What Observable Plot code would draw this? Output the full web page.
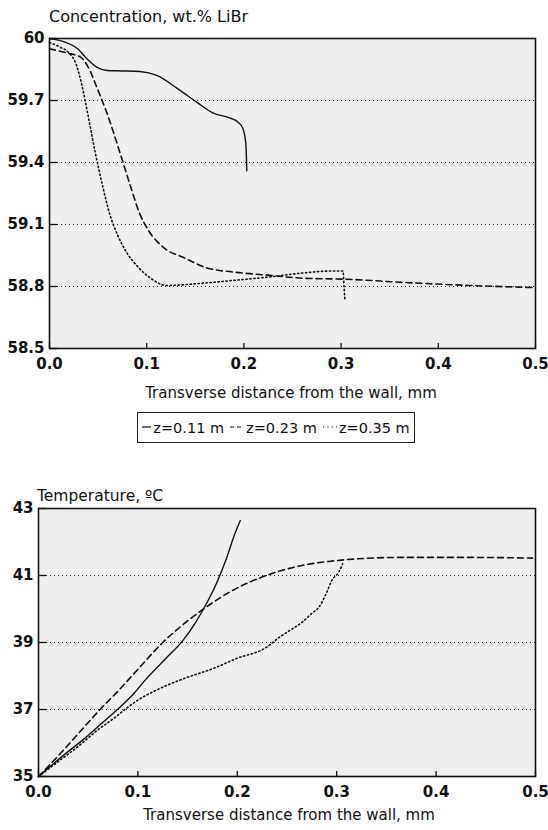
<!DOCTYPE html>
<html><head><meta charset="utf-8">
<script src="https://cdn.jsdelivr.net/npm/d3@7"></script>
<script src="https://cdn.jsdelivr.net/npm/@observablehq/plot@0.6"></script>
<style>
body{margin:0;background:#fff;}
#wrap{position:relative;width:548px;height:830px;overflow:hidden;font-family:"DejaVu Sans",sans-serif;color:#111;}
.abs{position:absolute;white-space:nowrap;}
.plot{position:absolute;left:0;}
#legend{position:absolute;left:137px;top:412px;width:276px;height:29px;border:1px solid #222;display:flex;align-items:center;justify-content:center;gap:6px;font-size:14.5px;white-space:nowrap;}
#legend span.it{display:flex;align-items:center;gap:2px;flex-shrink:0;white-space:nowrap;}
</style></head><body><div id="wrap"></div>
<script>
// ---------- data ----------
const seriesNames = ["z=0.11 m", "z=0.23 m", "z=0.35 m"];
const xTicks = [0, 0.1, 0.2, 0.3, 0.4, 0.5];
const concTicks = [58.5, 58.8, 59.1, 59.4, 59.7, 60];
const concGrid = [58.8, 59.1, 59.4, 59.7];
const tempTicks = [35, 37, 39, 41, 43];
const tempGrid = [37, 39, 41];

// Concentration, wt.% LiBr
const concX_011 = [0, 0.011, 0.029, 0.039, 0.049, 0.059, 0.075, 0.093, 0.111, 0.131, 0.152, 0.168, 0.186, 0.194, 0.199, 0.202, 0.203];
const concY_011 = [60, 59.99, 59.95, 59.90, 59.86, 59.845, 59.843, 59.84, 59.82, 59.76, 59.69, 59.64, 59.615, 59.595, 59.565, 59.49, 59.36];
const concX_023 = [0, 0.018, 0.032, 0.04, 0.049, 0.059, 0.073, 0.083, 0.093, 0.102, 0.117, 0.138, 0.162, 0.189, 0.224, 0.261, 0.306, 0.363, 0.432, 0.497];
const concY_023 = [59.95, 59.93, 59.91, 59.86, 59.76, 59.64, 59.44, 59.29, 59.15, 59.07, 58.99, 58.94, 58.89, 58.87, 58.855, 58.84, 58.835, 58.82, 58.805, 58.795];
const concX_035 = [0, 0.01, 0.02, 0.027, 0.033, 0.04, 0.047, 0.054, 0.062, 0.07, 0.08, 0.09, 0.104, 0.121, 0.155, 0.19, 0.224, 0.26, 0.29, 0.302, 0.303, 0.304];
const concY_035 = [59.98, 59.96, 59.93, 59.88, 59.78, 59.62, 59.45, 59.3, 59.15, 59.05, 58.96, 58.9, 58.84, 58.805, 58.815, 58.83, 58.845, 58.865, 58.875, 58.875, 58.80, 58.73];

// Temperature, °C
const tempX_011 = [0, 0.015, 0.03, 0.045, 0.066, 0.083, 0.095, 0.108, 0.129, 0.145, 0.157, 0.166, 0.179, 0.189, 0.197, 0.203];
const tempY_011 = [35, 35.38, 35.75, 36.1, 36.65, 37.1, 37.45, 37.9, 38.55, 39.05, 39.55, 40.0, 40.76, 41.5, 42.2, 42.64];
const tempX_023 = [0, 0.02, 0.04, 0.062, 0.08, 0.1, 0.125, 0.149, 0.166, 0.195, 0.229, 0.265, 0.292, 0.322, 0.365, 0.432, 0.497];
const tempY_023 = [35, 35.62, 36.28, 37.0, 37.55, 38.2, 39.0, 39.62, 40.0, 40.55, 41.0, 41.3, 41.42, 41.5, 41.54, 41.54, 41.52];
const tempX_035 = [0, 0.02, 0.04, 0.06, 0.075, 0.087, 0.1, 0.118, 0.146, 0.178, 0.199, 0.229, 0.242, 0.255, 0.265, 0.275, 0.282, 0.29, 0.295, 0.302, 0.306];
const tempY_035 = [35, 35.45, 35.9, 36.4, 36.72, 37.0, 37.28, 37.57, 37.92, 38.25, 38.52, 38.85, 39.15, 39.4, 39.6, 39.87, 40.05, 40.5, 40.85, 41.1, 41.35];

// ---------- build ----------
const dashes = {"z=0.11 m": null, "z=0.23 m": "6,4", "z=0.35 m": "1.3,2.7"};
function rows(xs, ys, s) { return xs.map((x, i) => ({x, y: ys[i], s})); }
const concData = [
  ...rows(concX_011, concY_011, seriesNames[0]),
  ...rows(concX_023, concY_023, seriesNames[1]),
  ...rows(concX_035, concY_035, seriesNames[2])
];
const tempData = [
  ...rows(tempX_011, tempY_011, seriesNames[0]),
  ...rows(tempX_023, tempY_023, seriesNames[1]),
  ...rows(tempX_035, tempY_035, seriesNames[2])
];

const wrap = document.getElementById("wrap");
const font = {fontFamily: "DejaVu Sans, sans-serif", fontSize: "15px", fontWeight: "bold", background: "transparent", color: "#111", overflow: "hidden"};

function chart({data, yDomain, yTicks, grid, yFmt, height, mt, ml, mr, mb}) {
  return Plot.plot({
    width: 548, height,
    marginTop: mt, marginLeft: ml, marginRight: mr, marginBottom: mb,
    style: font,
    x: {domain: [0, 0.5]},
    y: {domain: yDomain},
    marks: [
      Plot.frame({fill: "#efefef", stroke: null}),
      Plot.ruleY(grid, {stroke: "#222", strokeWidth: 1, strokeDasharray: "1,3"}),
      ...seriesNames.map(n => Plot.line(data.filter(d => d.s === n), {
        x: "x", y: "y", stroke: "#111", strokeWidth: n === seriesNames[0] ? 1.4 : 1.6,
        strokeDasharray: dashes[n], curve: "monotone-x"
      })),
      Plot.frame({stroke: "#111", strokeWidth: 1.6}),
      Plot.axisY(yTicks, {tickSize: -8, tickPadding: 13, tickFormat: yFmt, label: null, stroke: "#111", strokeWidth: 1.3}),
      Plot.axisX(xTicks, {tickSize: -5, tickPadding: 15, tickFormat: d => d.toFixed(1), label: null, stroke: "#111", strokeWidth: 1.3})
    ]
  });
}

const topChart = chart({data: concData, yDomain: [58.5, 60], yTicks: concTicks, grid: concGrid,
  yFmt: d => d === 60 ? "60" : d.toFixed(1), height: 400, mt: 38, ml: 49, mr: 13, mb: 52});
topChart.classList.add("plot"); topChart.style.top = "0px"; topChart.style.position = "absolute";
wrap.appendChild(topChart);

const botChart = chart({data: tempData, yDomain: [35, 43], yTicks: tempTicks, grid: tempGrid,
  yFmt: d => String(d), height: 370, mt: 48, ml: 38, mr: 13, mb: 54});
botChart.classList.add("plot"); botChart.style.top = "460px"; botChart.style.position = "absolute";
wrap.appendChild(botChart);

function label(text, left, y, size, center) {
  const d = document.createElement("div");
  d.className = "abs"; d.textContent = text;
  d.style.left = left + "px"; d.style.top = y + "px"; d.style.fontSize = size + "px";
  if (center) d.style.transform = "translateX(-50%)";
  wrap.appendChild(d);
}
label("Concentration, wt.% LiBr", 49, 7, 16);
label("Transverse distance from the wall, mm", 291, 384, 15, true);
label("Temperature, \u00BAC", 37, 487, 15.5);
label("Transverse distance from the wall, mm", 289, 806, 15, true);

// legend
const lg = document.createElement("div"); lg.id = "legend";
seriesNames.forEach(n => {
  const it = document.createElement("span"); it.className = "it";
  const w = n === seriesNames[0] ? 9 : 14;
  it.innerHTML = `<svg width="${w}" height="10"><line x1="0" y1="4" x2="${w}" y2="4" stroke="#111" stroke-width="1.2" ${dashes[n] ? `stroke-dasharray="${n === seriesNames[1] ? "4,3" : "1.3,3"}"` : ""}/></svg><span>${n}</span>`;
  lg.appendChild(it);
});
wrap.appendChild(lg);
</script></body></html>
